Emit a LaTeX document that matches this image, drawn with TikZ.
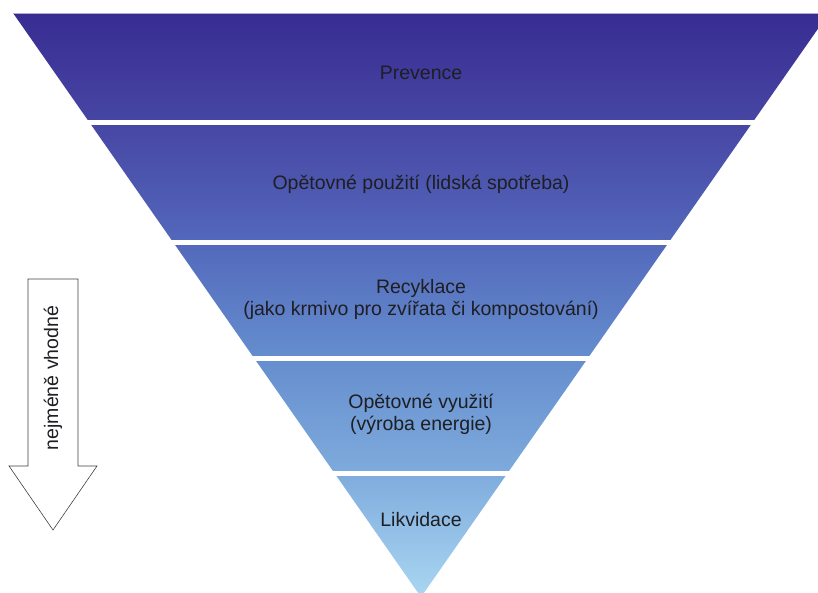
\documentclass[tikz,border=0pt]{standalone}
\usepackage{fontspec}
\setmainfont{Liberation Sans}
\usetikzlibrary{positioning}
\definecolor{topblue}{RGB}{56,44,146}
\definecolor{blueb}{RGB}{72,72,165}
\definecolor{bluec}{RGB}{82,102,186}
\definecolor{blued}{RGB}{100,140,205}
\definecolor{bluee}{RGB}{125,170,220}
\definecolor{lowblue}{RGB}{170,214,242}
\definecolor{labeltext}{RGB}{30,30,35}
\pgfdeclareverticalshading{hierarchy}{100bp}{color(0bp)=(lowblue); color(25bp)=(lowblue);
  color(36bp)=(bluee); color(46bp)=(blued); color(56bp)=(bluec); color(65bp)=(blueb);
  color(75bp)=(topblue); color(100bp)=(topblue)}
\tikzset{
  level/.style={text=labeltext,align=center,font=\fontsize{19.5}{22}\selectfont},
  gap/.style={white,line width=5pt},
}

\begin{document}
\begin{tikzpicture}[x=1pt,y=-1pt]

\useasboundingbox (0,0) rectangle (818,592);

\begin{scope}
\clip (0,0) rectangle (818,592);
\shade[shading=hierarchy] (13,13)--(829,13)--(421,597)--cycle;
\draw[color=topblue!40,line width=1pt] (13,13)--(818,13);
\draw[gap] (0,122.5)--(818,122.5);
\draw[gap] (0,242.5)--(818,242.5);
\draw[gap] (0,358.5)--(818,358.5);
\draw[gap] (0,473)--(818,473);
\end{scope}

\node[level] (prev) at (421,73) {Prevence};
\node[level] (reuse) at (421,184) {Opětovné použití (lidská spotřeba)};
\node[level] (recy) at (421,299) {Recyklace\\(jako krmivo pro zvířata či kompostování)};
\node[level] (recov) at (421,414) {Opětovné využití\\(výroba energie)};
\node[level] (disp) at (421,520) {Likvidace};

\draw[color=black!75,line width=0.6pt,fill=white]
    (28,279)--(78,279)--(78,466)--(97,466)--(53,530)--(9,466)--(28,466)--cycle;
\node[level,rotate=90] (least) at (53,378) {nejméně vhodné};

\end{tikzpicture}
\end{document}
